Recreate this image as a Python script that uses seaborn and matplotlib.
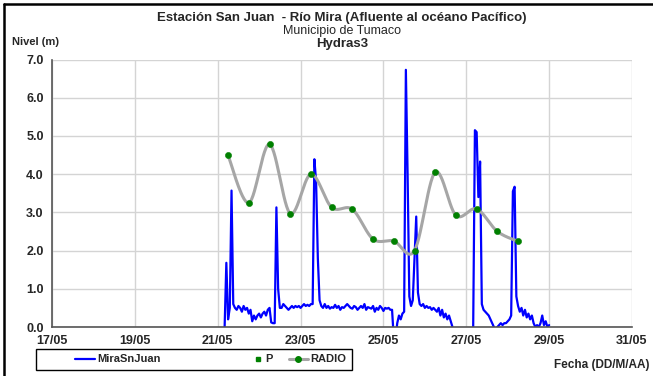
import numpy as np
import pandas as pd
import matplotlib
matplotlib.use('Agg')
import matplotlib.pyplot as plt
import matplotlib.dates as mdates
from matplotlib.lines import Line2D
from matplotlib.patches import Rectangle
import seaborn as sns

# ==========================================
# Datos
# ==========================================
inicio_nivel = '2019-05-21 04:00'   # serie horaria MiraSnJuan
nivel = [
    0.0, 1.68, 0.2, 0.5, 3.57, 0.6,
    0.5, 0.45, 0.55, 0.5, 0.4, 0.55, 0.45, 0.5, 0.35, 0.45,
    0.15, 0.3, 0.2, 0.3, 0.35, 0.25, 0.35, 0.4, 0.3, 0.45, 0.5, 0.12, 0.1,
    0.1, 3.13, 1.0, 0.5,
    0.5, 0.6, 0.55, 0.5, 0.45, 0.5, 0.55, 0.5, 0.55, 0.52, 0.55, 0.5, 0.55, 0.6, 0.55, 0.58, 0.55, 0.6,
    0.6, 4.39, 3.8, 1.8, 0.7,
    0.55, 0.5, 0.6, 0.5, 0.55, 0.48, 0.52, 0.5, 0.58, 0.5,
    0.55, 0.45, 0.52, 0.5, 0.55, 0.6, 0.55, 0.5, 0.48, 0.55,
    0.52, 0.45, 0.5, 0.55, 0.5, 0.6, 0.45, 0.52, 0.5, 0.48,
    0.55, 0.4, 0.5, 0.45, 0.55, 0.5, 0.42, 0.5, 0.48, 0.5, 0.45,
    0.45,
    -0.3, -0.3, 0.1, 0.3, 0.2, 0.35, 0.4,
    6.73, 4.0, 0.8, 0.55, 0.7, 1.8, 2.89, 0.9, 0.6,
    0.55, 0.6, 0.5, 0.55, 0.5, 0.52, 0.45, 0.5, 0.45, 0.4, 0.5, 0.3, 0.45, 0.25, 0.35, 0.2,
    0.3, 0.15, 0.0, -0.5,
    -0.5, -0.5, -0.5, -0.5, -0.5, -0.5, -0.5, -0.5, -0.5, -0.5,
    0.0, 5.15, 5.1, 3.4, 4.33, 0.6,
    0.45, 0.4, 0.35, 0.3, 0.2, 0.1, 0.0, -0.1, 0.0, 0.05,
    0.1, 0.05, 0.1, 0.1, 0.15, 0.2, 0.3, 3.55, 3.67, 0.8,
    0.55, 0.4, 0.5, 0.3, 0.45, 0.25, 0.35, 0.2, 0.3, 0.1,
    0.0, 0.05, 0.0, 0.1, 0.3, 0.05, 0.15, 0.0, 0.05,
]

inicio_radio = '2019-05-21 06:00'   # cada 12 horas
radio = [4.49, 3.25, 4.78, 2.97, 4.00, 3.13, 3.08, 2.30, 2.25, 2.00,
         4.05, 2.92, 3.09, 2.50, 2.24]

y_ticks = [0, 1, 2, 3, 4, 5, 6, 7]

df_nivel = pd.DataFrame({
    'fecha': pd.date_range(inicio_nivel, periods=len(nivel), freq='h'),
    'nivel': nivel,
})
df_radio = pd.DataFrame({
    'fecha': pd.date_range(inicio_radio, periods=len(radio), freq='12h'),
    'radio': radio,
})

# línea suavizada tipo Excel (Bezier con puntos de control Catmull-Rom)
def suavizar(x, y, n=30):
    px = np.concatenate([[x[0]], x, [x[-1]]])
    py = np.concatenate([[y[0]], y, [y[-1]]])
    xs, ys = [], []
    t = np.linspace(0, 1, n)
    for i in range(1, len(px) - 2):
        p0 = np.array([px[i], py[i]])
        p3 = np.array([px[i + 1], py[i + 1]])
        c1 = p0 + (np.array([px[i + 1], py[i + 1]]) - np.array([px[i - 1], py[i - 1]])) / 6
        c2 = p3 - (np.array([px[i + 2], py[i + 2]]) - np.array([px[i], py[i]])) / 6
        b = ((1 - t) ** 3)[:, None] * p0 + (3 * (1 - t) ** 2 * t)[:, None] * c1 \
            + (3 * (1 - t) * t ** 2)[:, None] * c2 + (t ** 3)[:, None] * p3
        xs.extend(b[:, 0]); ys.extend(b[:, 1])
    return np.array(xs), np.array(ys)

xr = mdates.date2num(df_radio['fecha'])
sx, sy = suavizar(xr, df_radio['radio'].values)

# ==========================================
# Gráfico
# ==========================================
sns.set_style('whitegrid')
plt.rcParams['font.family'] = ['Liberation Sans', 'DejaVu Sans']

W, H = 653, 376
fig = plt.figure(figsize=(W / 100, H / 100), dpi=100)
ax = fig.add_axes([52 / W, 1 - 327 / H, 580 / W, 267.5 / H])

sns.lineplot(data=df_nivel, x='fecha', y='nivel', ax=ax, color='#0000ff', lw=1.6)
ax.plot(mdates.num2date(sx), sy, color='#a6a6a6', lw=2.2, zorder=3)
sns.scatterplot(data=df_radio, x='fecha', y='radio', ax=ax, color='#008000',
                s=20, edgecolor='#008000', zorder=4)

ax.set_xlim(pd.Timestamp('2019-05-17'), pd.Timestamp('2019-05-31'))
ax.set_ylim(0, 7)
ax.set_yticks(y_ticks)
ax.yaxis.set_major_formatter(matplotlib.ticker.FormatStrFormatter('%.1f'))
ax.xaxis.set_major_locator(mdates.DayLocator(bymonthday=range(1, 32, 2)))
ax.xaxis.set_major_formatter(mdates.DateFormatter('%d/%m'))
ax.set_xlabel('')
ax.set_ylabel('')

ax.grid(True, color='#d4d4d4', lw=1.0)
for s in ['top', 'right']:
    ax.spines[s].set_visible(False)
for s in ['left', 'bottom']:
    ax.spines[s].set_color('#555555')
    ax.spines[s].set_linewidth(1.2)
ax.tick_params(axis='both', which='major', direction='out', length=4, width=1,
               color='#555555', labelsize=9, pad=2)
for lab in ax.get_xticklabels() + ax.get_yticklabels():
    lab.set_fontweight('bold')

# títulos (centrados sobre el área de trazado)
cx = (52 + 632) / 2 / W
fig.text(cx, 1 - 18 / H, 'Estación San Juan  - Río Mira (Afluente al océano Pacífico)',
         ha='center', va='center', fontsize=9.5, fontweight='bold')
fig.text(cx, 1 - 31 / H, 'Municipio de Tumaco', ha='center', va='center', fontsize=9)
fig.text(cx, 1 - 43.5 / H, 'Hydras3', ha='center', va='center', fontsize=9.5, fontweight='bold')
fig.text(12 / W, 1 - 42 / H, 'Nivel (m)', ha='left', va='center', fontsize=8, fontweight='bold')
fig.text(650 / W, 1 - 365 / H, 'Fecha (DD/M/AA)', ha='right', va='center',
         fontsize=8.5, fontweight='bold')

# leyenda: marco y entradas
fig.add_artist(Rectangle((36 / W, 1 - 370 / H), 316 / W, 21 / H, transform=fig.transFigure,
                         facecolor='white', edgecolor='black', lw=1.0))
entradas = [
    (Line2D([], [], color='#0000ff', lw=1.6), 'MiraSnJuan', 75, 1.8),
    (Line2D([], [], color='#008000', marker='s', ls='none', markersize=2.5), 'P', 252, 1.0),
    (Line2D([], [], color='#a6a6a6', lw=2.2, marker='o', markersize=4,
            markerfacecolor='#008000', markeredgecolor='#008000'), 'RADIO', 289, 1.7),
]
for h, txt, x0, hl in entradas:
    fig.legend([h], [txt], loc='center left', bbox_to_anchor=(x0 / W, 1 - 359.5 / H),
               frameon=False, borderpad=0, borderaxespad=0, handlelength=hl,
               handletextpad=0.2, prop={'size': 8, 'weight': 'bold'})

# marco de la figura
fig.add_artist(Line2D([4 / W, 4 / W], [0, 1 - 4 / H], color='black', lw=1.8,
                      transform=fig.transFigure))
fig.add_artist(Line2D([4 / W, 1], [1 - 4 / H, 1 - 4 / H], color='black', lw=1.8,
                      transform=fig.transFigure))

fig.savefig('out.png', dpi=100)
